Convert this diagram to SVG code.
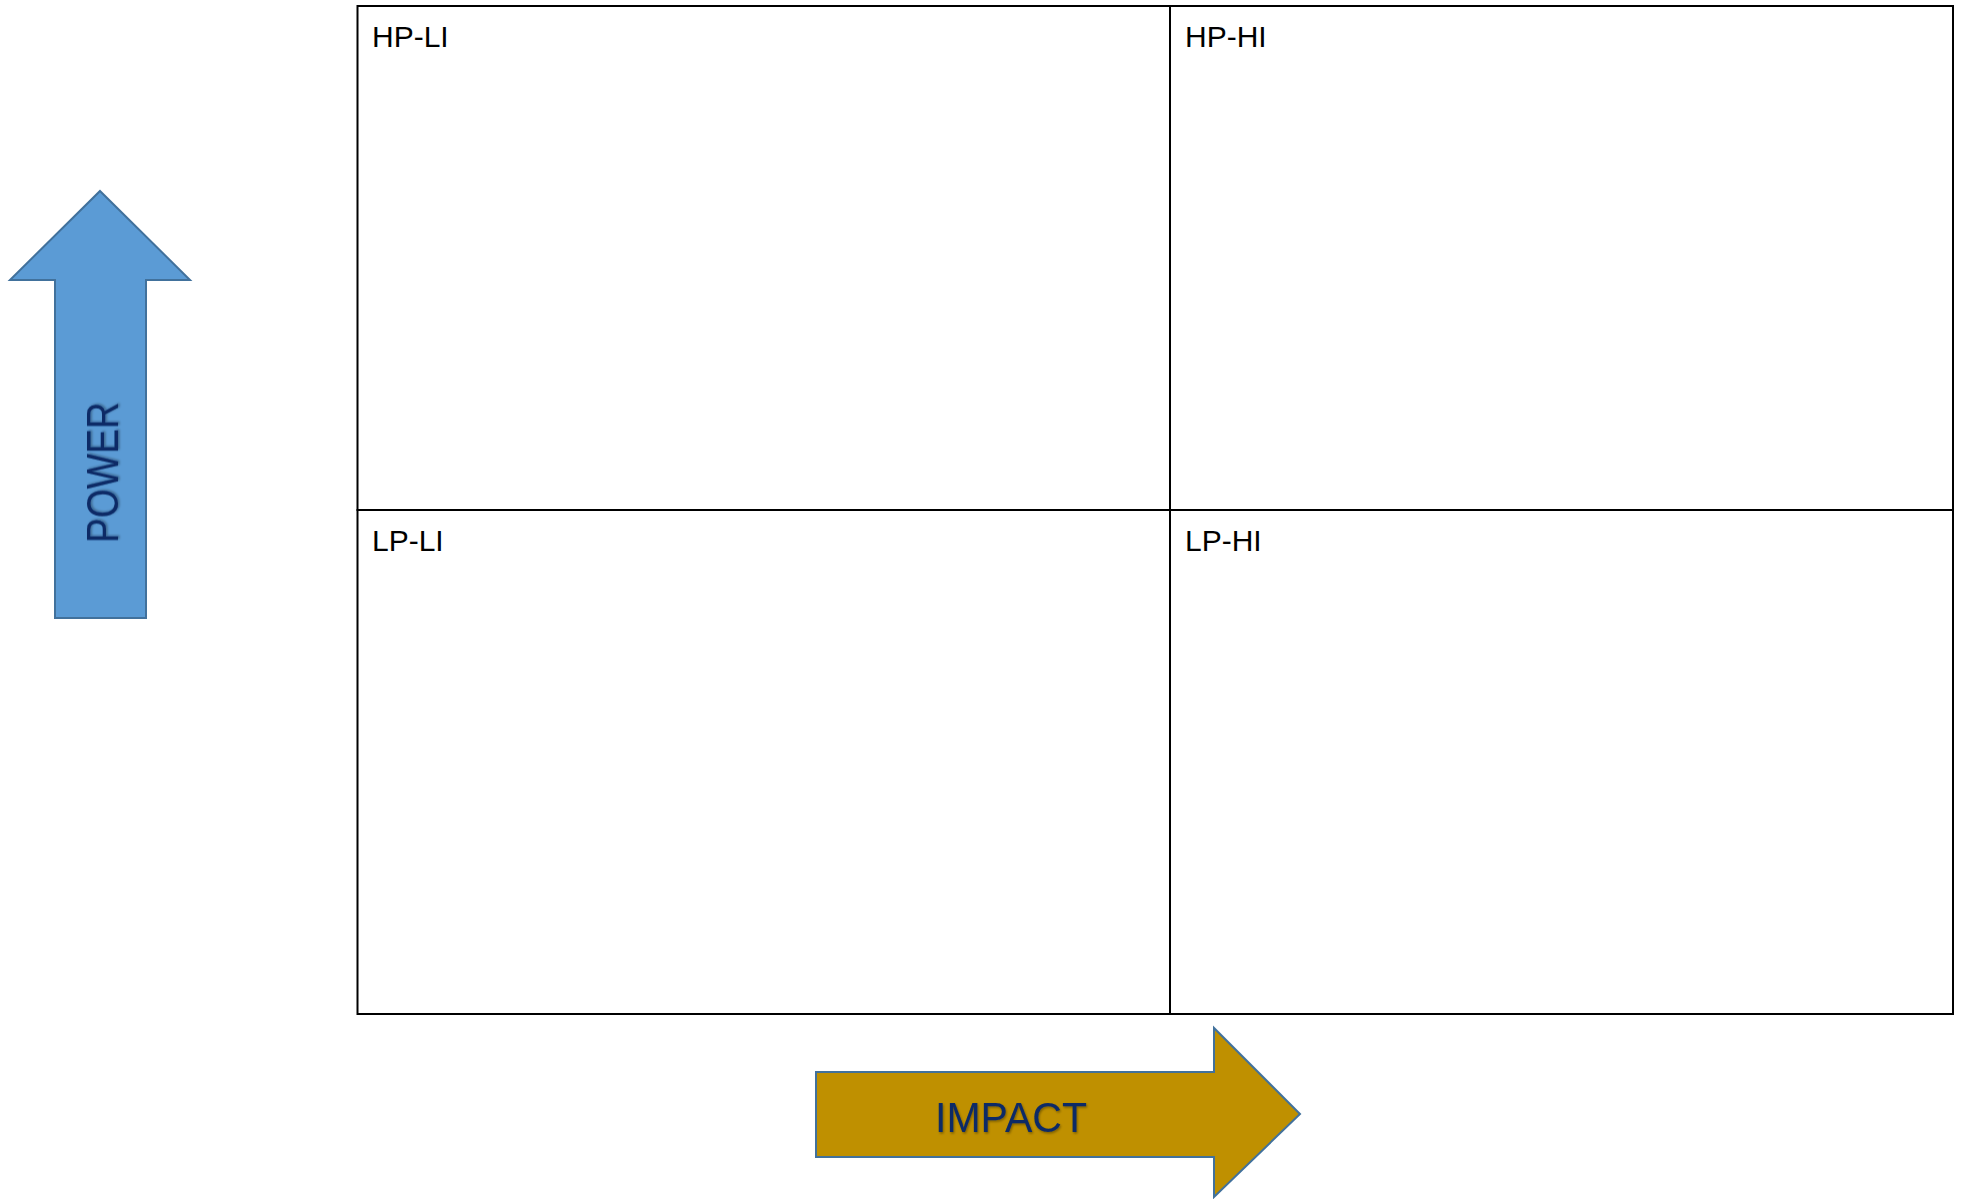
<svg xmlns="http://www.w3.org/2000/svg" width="1961" height="1199" viewBox="0 0 1961 1199">
  <defs>
    <style>
      .cell { fill: #ffffff; stroke: #000000; stroke-width: 2; }
      .lbl { font-family: "Liberation Sans", Arial, sans-serif; font-size: 30px; fill: #000000; }
      .axis { font-family: "Liberation Sans", Arial, sans-serif; fill: #0b2a66; }
      .arrowshape { stroke: #41719c; stroke-width: 2; stroke-linejoin: miter; }
    </style>
    <filter id="shadow" x="-10%" y="-20%" width="130%" height="150%">
      <feDropShadow dx="1" dy="1.5" stdDeviation="1.2" flood-color="#000000" flood-opacity="0.35"/>
    </filter>
  </defs>
  <rect width="1961" height="1199" fill="#ffffff"/>

  <g id="quadrant-hp-li">
    <rect class="cell" x="357.5" y="6" width="812.5" height="504"/>
    <text class="lbl" x="372" y="47">HP-LI</text>
  </g>
  <g id="quadrant-hp-hi">
    <rect class="cell" x="1170" y="6" width="783" height="504"/>
    <text class="lbl" x="1185" y="47">HP-HI</text>
  </g>
  <g id="quadrant-lp-li">
    <rect class="cell" x="357.5" y="510" width="812.5" height="504"/>
    <text class="lbl" x="372" y="551">LP-LI</text>
  </g>
  <g id="quadrant-lp-hi">
    <rect class="cell" x="1170" y="510" width="783" height="504"/>
    <text class="lbl" x="1185" y="551">LP-HI</text>
  </g>

  <g id="power-arrow">
    <polygon class="arrowshape" fill="#5b9bd5" points="100,191 190,280 146,280 146,618 55,618 55,280 10,280"/>
    <text class="axis" font-size="44" text-anchor="middle" textLength="141" lengthAdjust="spacingAndGlyphs" filter="url(#shadow)" transform="translate(118,472.5) rotate(-90)">POWER</text>
  </g>

  <g id="impact-arrow">
    <polygon class="arrowshape" fill="#bf9000" points="816,1072 1214,1072 1214,1028 1300,1114 1214,1197 1214,1157 816,1157"/>
    <text class="axis" font-size="42" x="935" y="1132" textLength="152" lengthAdjust="spacingAndGlyphs" filter="url(#shadow)">IMPACT</text>
  </g>

  <g id="connectors"></g>
</svg>
